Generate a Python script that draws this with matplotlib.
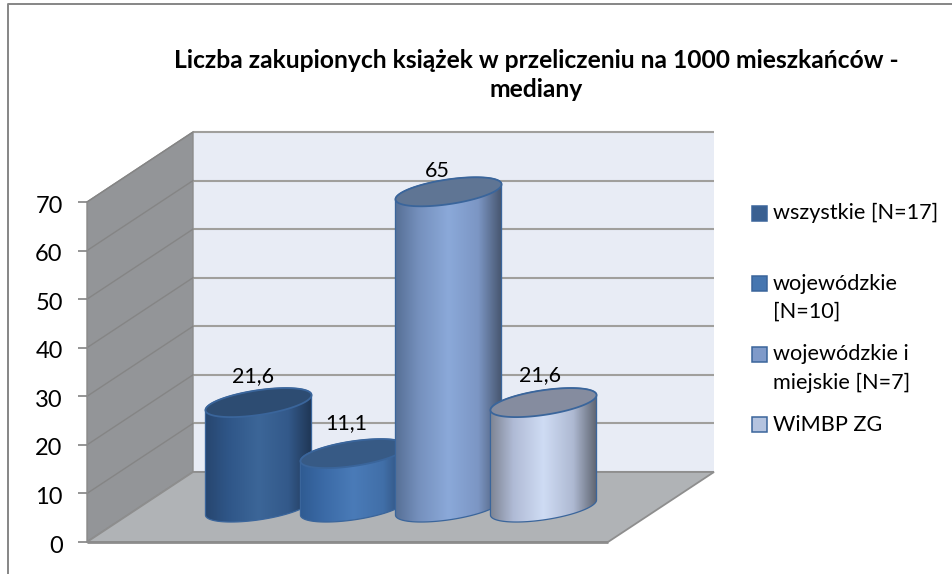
import numpy as np
import matplotlib
matplotlib.use("Agg")
import matplotlib.pyplot as plt
from matplotlib.colors import to_rgb
from matplotlib.patches import Polygon, Rectangle
from matplotlib.transforms import ScaledTranslation

plt.rcParams['font.family'] = ['Lato', 'DejaVu Sans']

# ---- data ----
categories = ["wszystkie [N=17]", "wojewódzkie\n[N=10]", "wojewódzkie i\nmiejskie [N=7]", "WiMBP ZG"]
values = [21.6, 11.1, 65, 21.6]
value_labels = ["21,6", "11,1", "65", "21,6"]
y_ticks = [0, 10, 20, 30, 40, 50, 60, 70]
title = "Liczba zakupionych książek w przeliczeniu na 1000 mieszkańców -\nmediany"

# ---- styles ----
body_stops = [
    ["#27466F", "#2F5688", "#3C6698", "#33598A", "#1F3654"],
    ["#2F5B92", "#3B6AA6", "#4A7BB8", "#416FA8", "#2B4A74"],
    ["#566F95", "#7590BD", "#8BA9D9", "#7C96C4", "#46556E"],
    ["#7D8492", "#B0BBD6", "#CFDCF4", "#AEB9D2", "#5E6470"],
]
top_colors = ["#2D4C72", "#375A85", "#5F7594", "#858C9F"]
legend_colors = ["#3A6091", "#4676B0", "#7F9AC9", "#B4C3DF"]
edge_color = "#3A659B"
label_offset_px = [26, 30, 21, 27]
label_shift_px = [-5, -7, -11, -3]
legend_y_px = [213.5, 283.5, 354, 424]
legend_line_px = [213, 283, 354, 425]

PX_PER_UNIT = 340 / 70
ZERO_PX = 542
W, H = 953, 574


def y_val(px):
    return (ZERO_PX - px) / PX_PER_UNIT


fig = plt.figure(figsize=(W / 100, H / 100), dpi=100, facecolor="white")
ax = fig.add_axes([0, 0, 1, 1])
ax.set_facecolor("white")
ax.set_xlim(0, W)
ax.set_ylim(y_val(H), y_val(0))
ax.patch.set_visible(False)
for s in ["top", "right", "bottom"]:
    ax.spines[s].set_visible(False)
ax.spines["left"].set_position(("data", 87))
ax.spines["left"].set_bounds(0, 70)
ax.spines["left"].set_color("#8C8C8C")
ax.set_xticks([])
ax.set_yticks(y_ticks)
ax.tick_params(axis="y", length=6.5, width=1.3, color="#8C8C8C", pad=11, labelsize=17, labelcolor="black")
for lbl in ax.get_yticklabels():
    lbl.set_transform(lbl.get_transform() + ScaledTranslation(0, -1.5 / 72, fig.dpi_scale_trans))

# chart frame (only top and left visible in the crop)
ax.plot([8, 8, W], [y_val(H), y_val(4), y_val(4)], color="#868686", lw=1.4, zorder=1, clip_on=False)

# 3D box
front_l, front_r = 87, 608
back_l, back_r = 193, 714
depth = y_val(472)
ymax = y_ticks[-1]

ax.add_patch(Polygon([(back_l, depth), (back_r, depth), (back_r, ymax + depth), (back_l, ymax + depth)],
                     closed=True, fc="#E8ECF5", ec="none", zorder=1))
ax.add_patch(Polygon([(front_l, 0), (back_l, depth), (back_l, ymax + depth), (front_l, ymax)],
                     closed=True, fc="#939598", ec="#8C8C8C", lw=1, zorder=1.2))
ax.add_patch(Polygon([(front_l, 0), (front_r, 0), (back_r, depth), (back_l, depth)],
                     closed=True, fc="#B0B3B6", ec="#8E8E8E", lw=1.3, zorder=1.3))
for v in y_ticks:
    ax.plot([back_l, back_r], [v + depth, v + depth], color="#A09F9C", lw=1.5, zorder=1.25, solid_capstyle="butt")
    ax.plot([front_l, back_l], [v, v + depth], color="#858585", lw=1.0, zorder=1.25)
ax.plot([front_l, front_r], [0, 0], color="#8C8C8C", lw=2, zorder=1.4, solid_capstyle="butt")

# cylinders
a, b, tilt = 53.6, 12.3, np.radians(8.5)
first_cx, step = 258.5, 95
base = y_val(507.5)


def ellipse(cx, cy_val, s):
    xs = cx + a * np.cos(s) * np.cos(tilt) - b * np.sin(s) * np.sin(tilt)
    dy = a * np.cos(s) * np.sin(tilt) + b * np.sin(s) * np.cos(tilt)
    return xs, cy_val + dy / PX_PER_UNIT


s_ext = np.arctan(-(b / a) * np.tan(tilt))   # right extreme
for i, val in enumerate(values):
    z = 3 + i
    cx = first_cx + i * step
    top = base + val
    s_low = np.linspace(s_ext - np.pi, s_ext, 100)      # lower arc, left to right
    s_up = np.linspace(s_ext, s_ext + np.pi, 100)       # upper arc, right to left
    bx, by = ellipse(cx, base, s_low)
    tx, ty = ellipse(cx, top, s_up)
    outline = np.column_stack([np.r_[bx, tx], np.r_[by, ty]])
    body = Polygon(outline, closed=True, fc="none", ec=edge_color, lw=0.9, zorder=z + 0.2)
    ax.add_patch(body)
    xg = np.linspace(0, 1, 200)
    stops = np.array([to_rgb(c) for c in body_stops[i]])
    pos = np.array([0, 0.22, 0.5, 0.78, 1])
    grad = np.stack([np.interp(xg, pos, stops[:, k]) for k in range(3)], axis=-1)[None, :, :]
    im = ax.imshow(grad, extent=(outline[:, 0].min(), outline[:, 0].max(), by.min(), ty.max()),
                   aspect="auto", zorder=z, interpolation="bilinear")
    im.set_clip_path(body)
    s = np.linspace(0, 2 * np.pi, 200)
    ex, ey = ellipse(cx, top, s)
    ax.add_patch(Polygon(np.column_stack([ex, ey]), closed=True, fc=top_colors[i], ec=edge_color, lw=1.3, zorder=z + 0.3))
    ax.text(cx + label_shift_px[i], top + label_offset_px[i] / PX_PER_UNIT, value_labels[i],
            ha="center", va="center", fontsize=15.5, color="black", zorder=10)

ax.set_xlim(0, W)
ax.set_ylim(y_val(H), y_val(0))

# title
ax.text(536, y_val(75), title, ha="center", va="center", fontsize=17.7, fontweight="bold",
        color="black", linespacing=1.3, zorder=10)

# legend
for i, cat in enumerate(categories):
    ax.add_patch(Rectangle((752, y_val(legend_y_px[i] + 7.5)), 15, 15 / PX_PER_UNIT,
                           fc=legend_colors[i], ec="#3A659B", lw=1.1, zorder=10))
    n_lines = cat.count("\n")
    ax.text(773, y_val(legend_line_px[i] + n_lines * 14.5), cat, ha="left", va="center",
            fontsize=15.6, color="black", linespacing=1.5, zorder=10)

fig.savefig("out.png", dpi=100)
